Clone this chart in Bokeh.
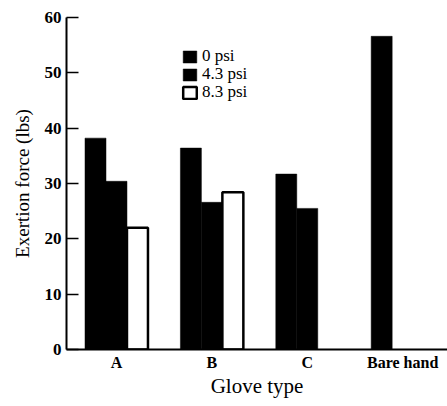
from bokeh.plotting import figure
from bokeh.models import Range1d, FixedTicker, Legend, LegendItem
from bokeh.embed import file_html
from bokeh.resources import INLINE

categories = ["A", "B", "C", "Bare hand"]
series_names = ["0 psi", "4.3 psi", "8.3 psi"]
psi_0 = [38.2, 36.4, 31.7, 56.6]
psi_43 = [30.4, 26.6, 25.5, None]
psi_83 = [22.0, 28.4, None, None]
y_ticks = [0, 10, 20, 30, 40, 50, 60]

SERIF = "Liberation Serif"

p = figure(width=447, height=401, output_backend="svg", toolbar_location=None,
           x_range=Range1d(0.476, 4.47), y_range=Range1d(0, 60),
           min_border_left=66, min_border_right=0, min_border_top=17,
           min_border_bottom=52)
p.outline_line_color = None
p.xgrid.visible = False
p.ygrid.visible = False
p.background_fill_color = "white"

xs = list(range(1, len(categories) + 1))
width = 0.22
offsets = [-0.22, 0.0, 0.22]
fills = ["black", "black", "white"]
renderers = []
for vals, off, fc in zip([psi_0, psi_43, psi_83], offsets, fills):
    bx = [x + off for x, v in zip(xs, vals) if v is not None]
    by = [v for v in vals if v is not None]
    r = p.vbar(x=bx, top=by, width=width, bottom=0, fill_color=fc,
               line_color="black", line_width=2.5 if fc == "white" else 0.5)
    renderers.append(r)

# one legend per row, for tight row spacing
legend_y = [283, 265, 247]
for name, r, ly in zip(series_names, renderers, legend_y):
    lg = Legend(items=[LegendItem(label=name, renderers=[r])],
                location=(115, ly), border_line_color=None, background_fill_alpha=0,
                padding=0, spacing=0, margin=0, glyph_width=17, glyph_height=15,
                label_text_font=SERIF, label_text_font_size="17px",
                label_text_color="black",
                label_standoff=4, label_height=15)
    p.add_layout(lg)

# y axis
p.yaxis.ticker = FixedTicker(ticks=y_ticks)
p.yaxis.major_tick_in = 12
p.yaxis.major_tick_out = 0
p.yaxis.minor_tick_line_color = None
p.yaxis.axis_line_width = 2
p.yaxis.major_tick_line_width = 1.5
p.yaxis.major_label_text_font = SERIF
p.yaxis.major_label_text_font_style = "bold"
p.yaxis.major_label_text_font_size = "17px"
p.yaxis.major_label_text_color = "black"
p.yaxis.major_label_standoff = 5
p.yaxis.axis_label = "Exertion force (lbs)"
p.yaxis.axis_label_text_font = SERIF
p.yaxis.axis_label_text_font_style = "normal"
p.yaxis.axis_label_text_font_size = "19px"
p.yaxis.axis_label_text_color = "black"
p.yaxis.axis_label_standoff = 9

# x axis
p.xaxis.ticker = FixedTicker(ticks=xs)
p.xaxis.major_label_overrides = {x: c for x, c in zip(xs, categories)}
p.xaxis.major_tick_in = 0
p.xaxis.major_tick_out = 0
p.xaxis.minor_tick_line_color = None
p.xaxis.axis_line_width = 2
p.xaxis.major_label_text_font = SERIF
p.xaxis.major_label_text_font_style = "bold"
p.xaxis.major_label_text_font_size = "16px"
p.xaxis.major_label_text_color = "black"
p.xaxis.major_label_standoff = 4
p.xaxis.axis_label = "Glove type"
p.xaxis.axis_label_text_font = SERIF
p.xaxis.axis_label_text_font_style = "normal"
p.xaxis.axis_label_text_font_size = "21px"
p.xaxis.axis_label_text_color = "black"
p.xaxis.axis_label_standoff = 0

open("out.html", "w").write(file_html(p, INLINE))
